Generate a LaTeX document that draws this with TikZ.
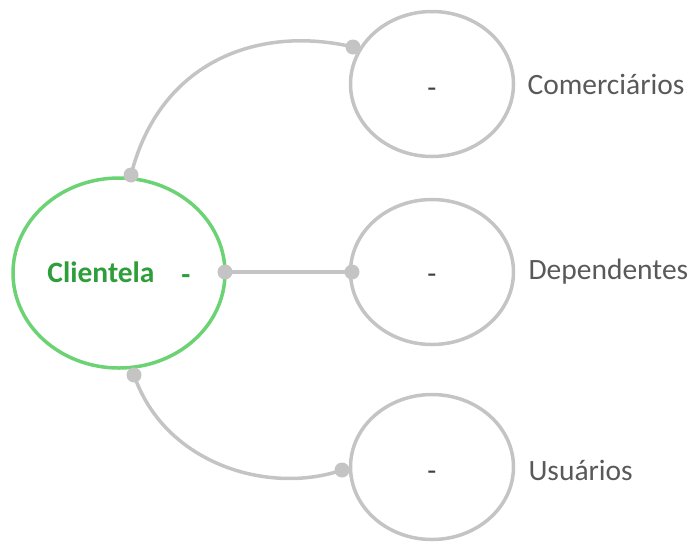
\documentclass[tikz,border=0pt]{standalone}
\usepackage{fontspec}
\setmainfont{Carlito}
\usetikzlibrary{shapes.geometric}
\definecolor{lgray}{HTML}{C4C4C4}
\definecolor{lgreen}{HTML}{6CD374}
\definecolor{dgreen}{HTML}{2E9E3A}
\definecolor{tgray}{HTML}{595959}
\definecolor{dashgray}{HTML}{404040}
\begin{document}
\begin{tikzpicture}[x=1pt,y=-1pt,
  hub/.style={ellipse,draw=lgreen,line width=3.5pt,minimum width=212pt,minimum height=190pt,inner sep=0pt},
  leaf/.style={ellipse,draw=lgray,line width=3.5pt,minimum width=163pt,minimum height=145pt,inner sep=0pt},
  conn/.style={draw=lgray,line width=3.5pt},
  dot/.style={circle,fill=lgray,minimum size=15pt,inner sep=0pt},
  lbl/.style={font=\fontsize{29.5}{32}\selectfont,text=tgray,anchor=west},
  dsh/.style={font=\fontsize{29.5}{32}\selectfont,text=dashgray}]
\useasboundingbox (0,0) rectangle (692,542);
\node[hub] (c) at (119,273) {};
\node[leaf] (t) at (432,84) {};
\node[leaf] (m) at (432,272) {};
\node[leaf] (b) at (432,467) {};
\node[font=\bfseries\fontsize{29.5}{32}\selectfont,text=dgreen] (ct) at (101,272) {Clientela};
\node[font=\bfseries\fontsize{29.5}{32}\selectfont,text=dgreen] (cd) at (186,280) {-};
\node[dsh] (td) at (432,93) {-};
\node[dsh] (md) at (432,279) {-};
\node[dsh] (bd) at (432,476) {-};
\node[lbl] (tl) at (524,84) {Comerciários};
\node[lbl] (ml) at (525,272) {Dependentes};
\node[lbl] (bl) at (525,470) {Usuários};
\coordinate (c1) at (131,175);
\coordinate (t1) at (353,47);
\coordinate (c2) at (225,272);
\coordinate (m1) at (352,272);
\coordinate (c3) at (134,375);
\coordinate (b1) at (342,470);
\draw[conn] (c1) .. controls (160,60) and (260,25) .. (t1);
\draw[conn] (c2) -- (m1);
\draw[conn] (c3) .. controls (165,465) and (270,495) .. (b1);
\foreach \p in {c1,t1,c2,m1,c3,b1} \node[dot] at (\p) {};
\end{tikzpicture}
\end{document}
